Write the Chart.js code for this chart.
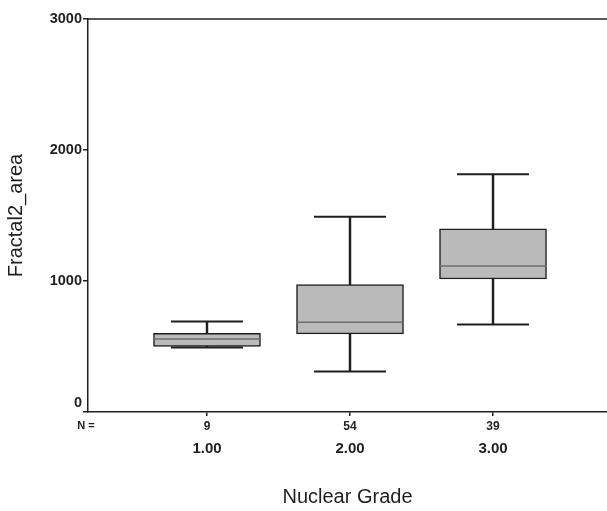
<!DOCTYPE html>
<html>
<head>
<meta charset="utf-8">
<script src="https://cdn.jsdelivr.net/npm/chart.js@4"></script>
<style>
  body { margin: 0; background: #fff; }
  #wrap { width: 607px; height: 511px; position: relative; }
</style>
</head>
<body>
<div id="wrap"><canvas id="chart"></canvas></div>
<script>
/* data */
const grades = ["1.00", "2.00", "3.00"];
const counts = ["9", "54", "39"];
const positions = [1, 2, 3];
const mins = [492, 309, 667];
const q1s = [500, 596, 1015];
const medians = [558, 685, 1114];
const q3s = [600, 972, 1398];
const maxs = [690, 1490, 1815];
const yTicks = [0, 1000, 2000, 3000];

const ink = "#1f1f1f";
const font = "Arial, 'Liberation Sans', sans-serif";

const boxData = positions.map((x, i) => ({ x, y: [q1s[i], q3s[i]] }));
const whiskerData = positions.map((x, i) => ({ x, y: [mins[i], maxs[i]] }));
const capData = positions.flatMap((x, i) => [{ x, y: mins[i] }, { x, y: maxs[i] }]);
const medianData = positions.map((x, i) => ({ x, y: medians[i] }));

/* frame line on top + "N =" label */
const extras = {
  id: "extras",
  afterDraw(c) {
    const { ctx, chartArea } = c;
    ctx.save();
    ctx.strokeStyle = ink;
    ctx.lineWidth = 1.5;
    ctx.beginPath();
    ctx.moveTo(chartArea.left, chartArea.top);
    ctx.lineTo(chartArea.right, chartArea.top);
    ctx.stroke();
    ctx.fillStyle = ink;
    ctx.font = "bold 11px " + font;
    ctx.textAlign = "center";
    ctx.textBaseline = "middle";
    ctx.fillText("N =", 86, 426);
    ctx.restore();
  }
};

const xTicks = scale => { scale.ticks = positions.map(v => ({ value: v })); };

new Chart(document.getElementById("chart"), {
  type: "bar",
  data: {
    datasets: [
      { type: "scatter", data: medianData, order: 0, pointStyle: "line", radius: 53, hoverRadius: 53,
        borderColor: "#6e6e6e", borderWidth: 1.5 },
      { type: "scatter", data: capData, order: 1, pointStyle: "line", radius: 36, hoverRadius: 36,
        borderColor: ink, borderWidth: 2 },
      { data: boxData, order: 2, grouped: false, barThickness: 107, backgroundColor: "#bababa",
        borderColor: ink, borderWidth: 1.5, borderSkipped: false },
      { data: whiskerData, order: 3, grouped: false, barThickness: 1.8, backgroundColor: ink,
        borderWidth: 0 }
    ]
  },
  options: {
    responsive: true,
    maintainAspectRatio: false,
    animation: false,
    events: [],
    layout: { autoPadding: false, padding: { top: 19, right: 0, left: 0, bottom: 0 } },
    plugins: { legend: { display: false }, tooltip: { enabled: false } },
    scales: {
      y: {
        min: 0, max: 3000,
        afterBuildTicks: s => { s.ticks = yTicks.map(v => ({ value: v })); },
        afterFit: s => { s.width = 88; },
        grid: { display: true, drawOnChartArea: false, drawTicks: true, tickLength: 5, color: ink, lineWidth: 1.5 },
        border: { display: true, color: ink, width: 1.5 },
        // the 0 label sits a little above the axis in the original
        ticks: { color: ink, padding: 1, font: { family: font, size: 14.5, weight: "bold" },
          callback: v => v === 0 ? ["0", ""] : String(v) },
        title: { display: true, text: "Fractal2_area", color: ink, padding: { top: 4, bottom: 0 },
          font: { family: font, size: 20 } }
      },
      x: {
        type: "linear", position: "bottom", weight: 0, offset: false,
        min: 0.168, max: 3.797,
        afterBuildTicks: xTicks,
        afterFit: s => { s.height = 22; },
        grid: { display: true, offset: false, drawOnChartArea: false, drawTicks: true, tickLength: 4, color: ink, lineWidth: 1.5 },
        border: { display: true, color: ink, width: 1.5 },
        ticks: { color: ink, padding: 3, maxRotation: 0, autoSkip: false,
          font: { family: font, size: 12, weight: "bold" },
          callback: v => counts[positions.indexOf(v)] }
      },
      x2: {
        type: "linear", position: "bottom", weight: 1, offset: false,
        min: 0.168, max: 3.797,
        afterBuildTicks: xTicks,
        afterFit: s => { s.height = 77; },
        grid: { display: false, offset: false, drawTicks: false },
        border: { display: false },
        ticks: { color: ink, padding: 6, maxRotation: 0, autoSkip: false,
          font: { family: font, size: 15, weight: "bold" },
          callback: v => grades[positions.indexOf(v)] },
        title: { display: true, text: "Nuclear Grade", color: ink, padding: { top: 0, bottom: 2 },
          font: { family: font, size: 20 } }
      }
    }
  },
  plugins: [extras]
});
</script>
</body>
</html>
